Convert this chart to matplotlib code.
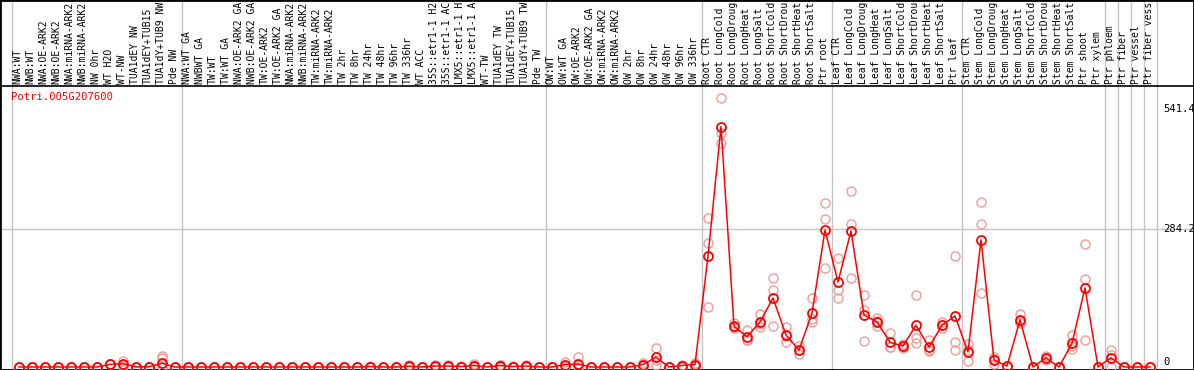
import numpy as np
import matplotlib.pyplot as plt

gene = "Potri.005G207600"

# condition labels as shown (long names are truncated to 14 characters)
labels = [
    # wood / bark experiments
    "NWA:WT", "NWB:WT", "NWA:OE-ARK2", "NWB:OE-ARK2", "NWA:miRNA-ARK2",
    "NWB:miRNA-ARK2", "NW 0hr", "WT H2O", "WT-NW", "TUA1dEY NW",
    "TUA1dEY+TUB15", "TUA1dY+TUB9 NW", "Pde NW",
    "NWA:WT GA", "NWBWT GA", "TW:WT", "TW:WT GA", "NWA:OE-ARK2 GA",
    "NWB:OE-ARK2 GA", "TW:OE-ARK2", "TW:OE-ARK2 GA", "NWA:miRNA-ARK2",
    "NWB:miRNA-ARK2", "TW:miRNA-ARK2", "TW:miRNA-ARK2", "TW 2hr", "TW 8hr",
    "TW 24hr", "TW 48hr", "TW 96hr", "TW 336hr", "WT ACC",
    "35S::etr1-1 H2", "35S::etr1-1 AC", "LMX5::etr1-1 H",
    "LMX5::etr1-1 A", "WT-TW", "TUA1dEY TW", "TUA1dEY+TUB15",
    "TUA1dY+TUB9 TW", "Pde TW",
    "OW:WT", "OW:WT GA", "OW:OE-ARK2", "OW:OE-ARK2 GA", "OW:miRNA-ARK2",
    "OW:miRNA-ARK2", "OW 2hr", "OW 8hr", "OW 24hr", "OW 48hr", "OW 96hr",
    "OW 336hr",
    # abiotic stress / tissues
    "Root CTR", "Root LongCold", "Root LongDroug", "Root LongHeat",
    "Root LongSalt", "Root ShortCold", "Root ShortDrou", "Root ShortHeat",
    "Root ShortSalt", "Ptr root",
    "Leaf CTR", "Leaf LongCold", "Leaf LongDroug", "Leaf LongHeat",
    "Leaf LongSalt", "Leaf ShortCold", "Leaf ShortDrou", "Leaf ShortHeat",
    "Leaf ShortSalt", "Ptr leaf",
    "Stem CTR", "Stem LongCold", "Stem LongDroug", "Stem LongHeat",
    "Stem LongSalt", "Stem ShortCold", "Stem ShortDrou", "Stem ShortHeat",
    "Stem ShortSalt", "Ptr shoot", "Ptr xylem",
    "Ptr phloem", "Ptr fiber", "Ptr vessel", "Ptr fiber vess",
]

# mean expression (dark markers + line)
mean_expr = [
    0, 0, 0, 0, 0, 0, 0, 5.5, 6.8, 0, 0.6, 7.6, 0,
    0, 0, 0, 0, 0, 0, 0, 0, 0, 0, 0, 0, 0, 0, 1, 0, 0, 1.5, 0,
    2, 2, 1, 3, 0, 3, 1, 2, 0,
    0, 5, 6, 0, 0, 0, 0, 5, 20, 0, 3, 5,
    228.6, 495, 84, 62, 93, 142, 66, 35, 111, 282,
    175, 280, 107, 93, 51, 43, 86, 41, 86, 105,
    31, 262, 14, 2, 97, 0, 19, 0, 49, 163, 0,
    19, 0, 0, 0,
]

# individual replicates (light markers)
rep_a = [
    0, 0, 0, 0, 0, 0, 0, 5.5, 12, 0, 0.6, 18, 0,
    0, 0, 0, 0, 0, 0, 0, 0, 0, 0, 0, 0, 0, 0, 3, 0, 0, 4, 0,
    4, 4, 2, 6, 0, 5, 2, 4, 0,
    0, 10, 20, 0, 0, 0, 0, 8, 40, 0, 5, 8,
    307, 554, 90, 76, 109, 183, 82, 44, 142, 338,
    224, 362, 54, 100, 70, 43, 148, 55, 92, 229,
    47, 340, 20, 2, 109, 0, 23, 0, 66, 253, 0,
    35, 0, 0, 0,
]
rep_b = [
    0, 0, 0, 0, 0, 0, 0, 5.5, 3, 0, 0.6, 23, 0,
    0, 0, 0, 0, 0, 0, 0, 0, 0, 0, 0, 0, 0, 0, 0, 0, 0, 0, 0,
    0, 0, 0, 0, 0, 0, 0, 0, 0,
    0, 2, 0, 0, 0, 0, 0, 2, 15, 0, 1, 3,
    255, 482, 80, 55, 82, 159, 64, 27, 92, 305,
    159, 294, 118, 84, 41, 47, 60, 33, 80, 35,
    12, 294, 6, 2, 90, 0, 15, 0, 37, 55, 0,
    25, 0, 0, 0,
]
rep_c = [
    0, 0, 0, 0, 0, 0, 0, 5.5, 5, 0, 0.6, 2, 0,
    0, 0, 0, 0, 0, 0, 0, 0, 0, 0, 0, 0, 0, 0, 0, 0, 0, 0, 0,
    2, 2, 1, 3, 0, 4, 1, 2, 0,
    0, 3, 0, 0, 0, 0, 0, 5, 5, 0, 3, 4,
    124, 461, 82, 55, 88, 84, 52, 34, 99, 203,
    142, 184, 149, 95, 42, 39, 50, 35, 86, 51,
    34, 152, 16, 2, 92, 0, 19, 0, 44, 181, 0,
    0, 0, 0, 0,
]

# group boundaries (after these label indices)
separators = [-0.5, 12.5, 40.5, 52.5, 62.5, 72.5, 83.5, 84.5, 85.5, 86.5, 87.5]
ytick_vals = [0, 284.2, 541.4]
ytick_text = ["0", "284.2", "541.4"]

W, H = 1194, 370
fig = plt.figure(figsize=(W / 100, H / 100), dpi=100)
ax = fig.add_axes([0, 0, 1, 1])

# pixel mapping: index i -> x = 19 + 13 i ; value v -> y = 367 - 0.4856 v
px_per_val = 0.4856
ax.set_xlim(-19 / 13, (W - 19) / 13)
ax.set_ylim(-(H - 367) / px_per_val, 367 / px_per_val)
ax.set_xticks([])
ax.set_yticks([])
for s in ax.spines.values():
    s.set_linewidth(2)
    s.set_color("black")

header_frac = 1 - 86 / H
mono = "DejaVu Sans Mono"
fs = 7.0

for sx in separators:
    ax.axvline(sx, color="#c4c4c4", lw=1, zorder=1)
ax.axhline(284.2, color="#c4c4c4", lw=1, zorder=1)
ax.plot([0, 1], [header_frac, header_frac], transform=ax.transAxes,
        color="black", lw=1.2, zorder=3)

x = np.arange(len(labels))
for reps in (rep_a, rep_b, rep_c):
    ax.plot(x, reps, linestyle="none", marker="o", markersize=6.5,
            markerfacecolor="none", markeredgecolor="#f09a9a",
            markeredgewidth=1.0, zorder=4)
ax.plot(x, mean_expr, color="red", lw=1.1, marker="o", markersize=6.5,
        markerfacecolor="none", markeredgecolor="red", markeredgewidth=1.3,
        zorder=5)

for i, lab in enumerate(labels):
    ax.text(i - 0.1, 1 - 84 / H, lab, transform=ax.get_xaxis_transform(),
            rotation=90, ha="center", va="bottom", fontsize=fs,
            family=mono, color="black")

ax.text(-0.65, 1 - 92 / H, gene, transform=ax.get_xaxis_transform(),
        ha="left", va="top", fontsize=7.6, family=mono, color="red")

valign = {"0": "bottom", "284.2": "center", "541.4": "top"}
for v, t in zip(ytick_vals, ytick_text):
    ax.text(88.0, v, t, ha="left", va=valign[t], fontsize=7.6,
            family=mono, color="black")

fig.savefig("out.png", dpi=100)
